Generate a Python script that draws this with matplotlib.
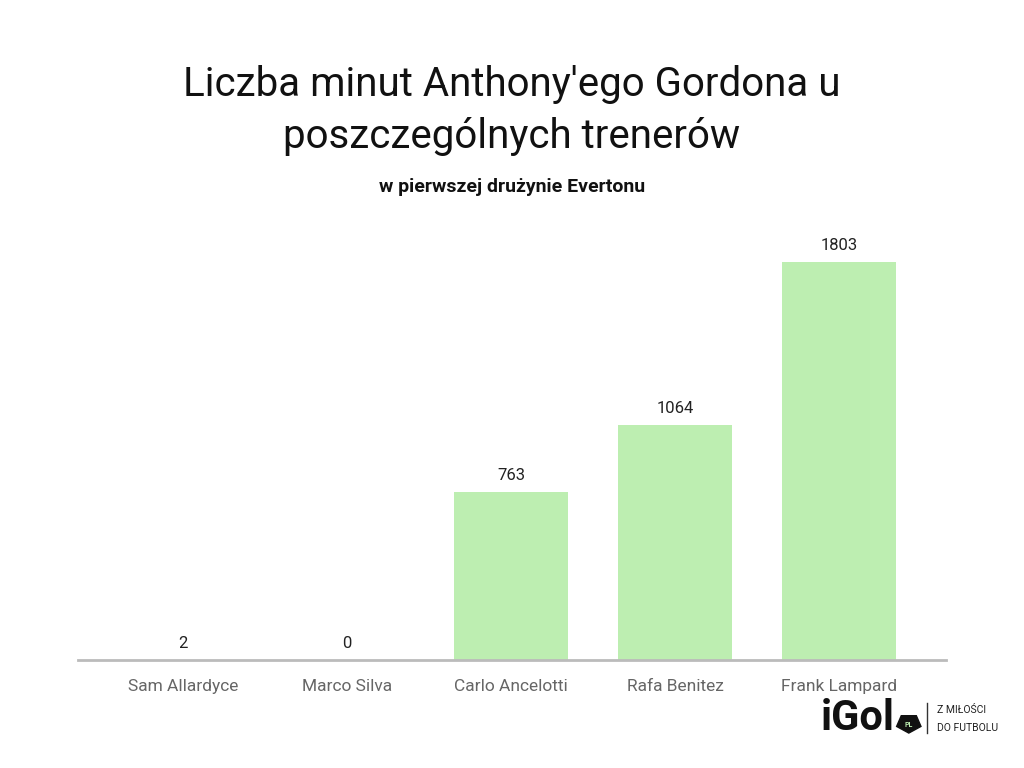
import matplotlib.pyplot as plt
from matplotlib.patches import RegularPolygon

plt.rcParams['font.family'] = ['Roboto', 'DejaVu Sans']

trenerzy = ['Sam Allardyce', 'Marco Silva', 'Carlo Ancelotti', 'Rafa Benitez', 'Frank Lampard']
minuty = [2, 0, 763, 1064, 1803]

fig = plt.figure(figsize=(10.24, 7.68), dpi=100)
ax = fig.add_axes([0.0762, 0.1406, 0.8477, 0.5729])

x = range(len(trenerzy))
ax.bar(x, minuty, width=0.695, color='#bdeeb1')
for i, v in zip(x, minuty):
    ax.text(i, v + 40, str(v), ha='center', va='bottom', fontsize=12, color='#222222')

ax.set_xlim(-0.64, 4.65)
ax.set_ylim(0, 1993)
ax.set_xticks(list(x))
ax.set_xticklabels(trenerzy, fontsize=12.5, color='#666666')
ax.tick_params(axis='x', length=0, pad=14)
ax.set_yticks([])
for s in ['top', 'left', 'right']:
    ax.spines[s].set_visible(False)
ax.spines['bottom'].set_color('#bbbbbb')
ax.spines['bottom'].set_linewidth(2)

fig.text(0.5, 0.890, "Liczba minut Anthony'ego Gordona u", ha='center', va='center', fontsize=29, color='#111111')
fig.text(0.5, 0.822, "poszczególnych trenerów", ha='center', va='center', fontsize=29, color='#111111')
fig.text(0.5, 0.757, "w pierwszej drużynie Evertonu", ha='center', va='center', fontsize=14, fontweight='bold', color='#111111')

# logo
fig.text(0.802, 0.064, 'iGol', ha='left', va='center', fontsize=30, fontweight='bold', color='#111111')
pent = RegularPolygon((0.8875, 0.058), numVertices=5, radius=0.0125, orientation=3.14159,
                      transform=fig.transFigure, color='#111111')
fig.patches.append(pent)
fig.text(0.8875, 0.056, 'PL', ha='center', va='center', fontsize=5, color='#bdeeb1', fontweight='bold')
fig.add_artist(plt.Line2D([0.905, 0.905], [0.045, 0.085], transform=fig.transFigure, color='#333333', lw=1))
fig.text(0.915, 0.075, 'Z MIŁOŚCI', ha='left', va='center', fontsize=7.5, color='#222222')
fig.text(0.915, 0.052, 'DO FUTBOLU', ha='left', va='center', fontsize=7.5, color='#222222')

fig.savefig('out.png', dpi=100, facecolor='white')
